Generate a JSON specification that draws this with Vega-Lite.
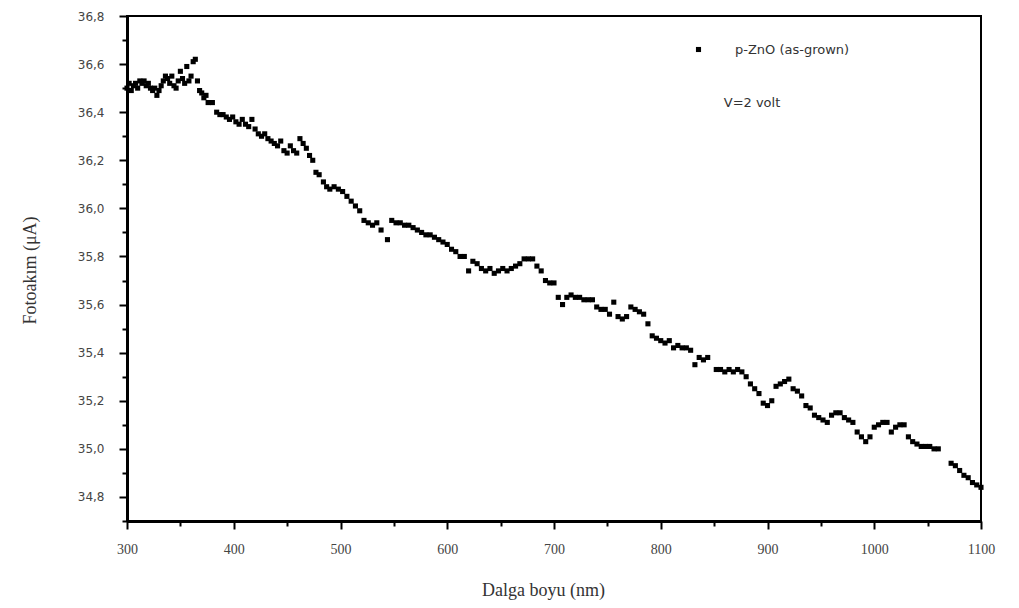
{
  "$schema": "https://vega.github.io/schema/vega-lite/v6.json",
  "width": 854,
  "height": 505,
  "autosize": {"type": "none"},
  "padding": {"left": 127, "top": 16, "right": 38, "bottom": 87},
  "background": "white",
  "config": {"view": {"stroke": "#000", "strokeWidth": 2}},
  "datasets": {
    "pts": [
      {"nm":300,"uA":36.50},{"nm":302,"uA":36.52},{"nm":304,"uA":36.49},{"nm":306,"uA":36.51},{"nm":308,"uA":36.52},
      {"nm":310,"uA":36.50},{"nm":312,"uA":36.53},{"nm":314,"uA":36.52},{"nm":316,"uA":36.53},{"nm":318,"uA":36.51},
      {"nm":320,"uA":36.52},{"nm":322,"uA":36.50},{"nm":324,"uA":36.49},{"nm":326,"uA":36.50},{"nm":328,"uA":36.47},
      {"nm":330,"uA":36.49},{"nm":332,"uA":36.51},{"nm":334,"uA":36.53},{"nm":336,"uA":36.55},{"nm":338,"uA":36.54},
      {"nm":340,"uA":36.52},{"nm":342,"uA":36.55},{"nm":344,"uA":36.51},{"nm":346,"uA":36.50},{"nm":348,"uA":36.53},
      {"nm":350,"uA":36.57},{"nm":352,"uA":36.54},{"nm":354,"uA":36.52},{"nm":356,"uA":36.59},{"nm":358,"uA":36.53},
      {"nm":360,"uA":36.55},{"nm":362,"uA":36.61},{"nm":364,"uA":36.62},{"nm":366,"uA":36.53},{"nm":368,"uA":36.49},
      {"nm":370,"uA":36.48},{"nm":372,"uA":36.46},{"nm":374,"uA":36.47},{"nm":376,"uA":36.44},{"nm":380,"uA":36.44},
      {"nm":384,"uA":36.40},{"nm":387,"uA":36.39},{"nm":390,"uA":36.39},{"nm":393,"uA":36.38},{"nm":396,"uA":36.37},
      {"nm":399,"uA":36.38},{"nm":402,"uA":36.36},{"nm":405,"uA":36.35},{"nm":408,"uA":36.37},{"nm":411,"uA":36.35},
      {"nm":414,"uA":36.34},{"nm":417,"uA":36.37},{"nm":420,"uA":36.33},{"nm":423,"uA":36.31},{"nm":426,"uA":36.30},
      {"nm":429,"uA":36.31},{"nm":432,"uA":36.29},{"nm":435,"uA":36.28},{"nm":438,"uA":36.27},{"nm":441,"uA":36.26},
      {"nm":444,"uA":36.28},{"nm":447,"uA":36.24},{"nm":450,"uA":36.23},{"nm":453,"uA":36.26},{"nm":456,"uA":36.24},
      {"nm":459,"uA":36.23},{"nm":462,"uA":36.29},{"nm":465,"uA":36.27},{"nm":468,"uA":36.25},{"nm":471,"uA":36.22},
      {"nm":474,"uA":36.20},{"nm":477,"uA":36.15},{"nm":480,"uA":36.14},{"nm":484,"uA":36.11},{"nm":487,"uA":36.09},
      {"nm":490,"uA":36.08},{"nm":494,"uA":36.09},{"nm":498,"uA":36.08},{"nm":502,"uA":36.07},{"nm":506,"uA":36.05},
      {"nm":510,"uA":36.03},{"nm":514,"uA":36.01},{"nm":518,"uA":35.99},{"nm":522,"uA":35.95},{"nm":526,"uA":35.94},
      {"nm":530,"uA":35.93},{"nm":534,"uA":35.94},{"nm":538,"uA":35.91},{"nm":544,"uA":35.87},{"nm":548,"uA":35.95},
      {"nm":552,"uA":35.94},{"nm":556,"uA":35.94},{"nm":560,"uA":35.93},{"nm":564,"uA":35.93},{"nm":568,"uA":35.92},
      {"nm":572,"uA":35.91},{"nm":576,"uA":35.90},{"nm":580,"uA":35.89},{"nm":584,"uA":35.89},{"nm":588,"uA":35.88},
      {"nm":592,"uA":35.87},{"nm":596,"uA":35.86},{"nm":600,"uA":35.85},{"nm":604,"uA":35.83},{"nm":608,"uA":35.82},
      {"nm":612,"uA":35.80},{"nm":616,"uA":35.80},{"nm":620,"uA":35.74},{"nm":624,"uA":35.78},{"nm":628,"uA":35.77},
      {"nm":632,"uA":35.75},{"nm":636,"uA":35.74},{"nm":640,"uA":35.75},{"nm":644,"uA":35.73},{"nm":648,"uA":35.74},
      {"nm":652,"uA":35.75},{"nm":656,"uA":35.74},{"nm":660,"uA":35.75},{"nm":664,"uA":35.76},{"nm":668,"uA":35.77},
      {"nm":672,"uA":35.79},{"nm":676,"uA":35.79},{"nm":680,"uA":35.79},{"nm":684,"uA":35.76},{"nm":688,"uA":35.74},
      {"nm":692,"uA":35.70},{"nm":696,"uA":35.69},{"nm":700,"uA":35.69},{"nm":704,"uA":35.63},{"nm":708,"uA":35.60},
      {"nm":712,"uA":35.63},{"nm":716,"uA":35.64},{"nm":720,"uA":35.63},{"nm":724,"uA":35.63},{"nm":728,"uA":35.62},
      {"nm":732,"uA":35.62},{"nm":736,"uA":35.62},{"nm":740,"uA":35.59},{"nm":744,"uA":35.58},{"nm":748,"uA":35.58},
      {"nm":752,"uA":35.56},{"nm":756,"uA":35.61},{"nm":760,"uA":35.55},{"nm":764,"uA":35.54},{"nm":768,"uA":35.55},
      {"nm":772,"uA":35.59},{"nm":776,"uA":35.58},{"nm":780,"uA":35.57},{"nm":784,"uA":35.56},{"nm":788,"uA":35.52},
      {"nm":792,"uA":35.47},{"nm":796,"uA":35.46},{"nm":800,"uA":35.45},{"nm":804,"uA":35.44},{"nm":808,"uA":35.45},
      {"nm":812,"uA":35.42},{"nm":816,"uA":35.43},{"nm":820,"uA":35.42},{"nm":824,"uA":35.42},{"nm":828,"uA":35.41},
      {"nm":832,"uA":35.35},{"nm":836,"uA":35.38},{"nm":840,"uA":35.37},{"nm":844,"uA":35.38},{"nm":852,"uA":35.33},
      {"nm":856,"uA":35.33},{"nm":860,"uA":35.32},{"nm":864,"uA":35.33},{"nm":868,"uA":35.32},{"nm":872,"uA":35.33},
      {"nm":876,"uA":35.32},{"nm":880,"uA":35.30},{"nm":884,"uA":35.27},{"nm":888,"uA":35.25},{"nm":892,"uA":35.23},
      {"nm":896,"uA":35.19},{"nm":900,"uA":35.18},{"nm":904,"uA":35.20},{"nm":908,"uA":35.26},{"nm":912,"uA":35.27},
      {"nm":916,"uA":35.28},{"nm":920,"uA":35.29},{"nm":924,"uA":35.25},{"nm":928,"uA":35.24},{"nm":932,"uA":35.22},
      {"nm":936,"uA":35.18},{"nm":940,"uA":35.17},{"nm":944,"uA":35.14},{"nm":948,"uA":35.13},{"nm":952,"uA":35.12},
      {"nm":956,"uA":35.11},{"nm":960,"uA":35.14},{"nm":964,"uA":35.15},{"nm":968,"uA":35.15},{"nm":972,"uA":35.13},
      {"nm":976,"uA":35.12},{"nm":980,"uA":35.11},{"nm":984,"uA":35.07},{"nm":988,"uA":35.05},{"nm":992,"uA":35.03},
      {"nm":996,"uA":35.05},{"nm":1000,"uA":35.09},{"nm":1004,"uA":35.10},{"nm":1008,"uA":35.11},{"nm":1012,"uA":35.11},
      {"nm":1016,"uA":35.07},{"nm":1020,"uA":35.09},{"nm":1024,"uA":35.10},{"nm":1028,"uA":35.10},{"nm":1032,"uA":35.05},
      {"nm":1036,"uA":35.03},{"nm":1040,"uA":35.02},{"nm":1044,"uA":35.01},{"nm":1048,"uA":35.01},{"nm":1052,"uA":35.01},
      {"nm":1056,"uA":35.00},{"nm":1060,"uA":35.00},{"nm":1072,"uA":34.94},{"nm":1076,"uA":34.93},{"nm":1080,"uA":34.91},
      {"nm":1084,"uA":34.89},{"nm":1088,"uA":34.88},{"nm":1092,"uA":34.86},{"nm":1096,"uA":34.85},{"nm":1100,"uA":34.84}
    ],
    "note": [{"label": "V=2 volt", "nm": 859, "uA": 36.44}]
  },
  "layer": [
    {
      "data": {"name": "pts"},
      "transform": [{"calculate": "'p-ZnO (as-grown)'", "as": "series"}],
      "mark": {"type": "point", "shape": "square", "filled": true, "size": 26, "opacity": 1},
      "encoding": {
        "x": {
          "field": "nm", "type": "quantitative",
          "scale": {"domain": [300, 1100], "nice": false, "zero": false},
          "axis": {
            "values": [300,350,400,450,500,550,600,650,700,750,800,850,900,950,1000,1050,1100],
            "tickCount": 40,
            "format": "d",
            "labelExpr": "datum.value % 100 == 0 ? datum.label : ''",
            "labelOverlap": false, "labelFlush": false,
            "tickSize": {"condition": {"test": "datum.value % 100 == 0", "value": 8}, "value": 5},
            "tickWidth": 2, "tickColor": "#000",
            "domainColor": "#000", "domainWidth": 3,
            "grid": false,
            "labelFont": "Liberation Serif", "labelFontSize": 14, "labelColor": "#444", "labelPadding": 13,
            "title": "Dalga boyu (nm)",
            "titleFont": "Liberation Serif", "titleFontSize": 18, "titleFontWeight": "normal", "titleColor": "#333",
            "titleX": 416, "titleY": 69, "titleBaseline": "middle"
          }
        },
        "y": {
          "field": "uA", "type": "quantitative",
          "scale": {"domain": [34.7, 36.8], "nice": false, "zero": false},
          "axis": {
            "values": [34.7,34.8,34.9,35.0,35.1,35.2,35.3,35.4,35.5,35.6,35.7,35.8,35.9,36.0,36.1,36.2,36.3,36.4,36.5,36.6,36.7,36.8],
            "tickCount": 40,
            "labelExpr": "(datum.value*10 + 0.5) % 2 < 1 ? replace(format(datum.value, '.1f'), '.', ',') : ''",
            "labelOverlap": false, "labelFlush": false,
            "tickSize": {"condition": {"test": "(datum.value*10 + 0.5) % 2 < 1", "value": 8}, "value": 5},
            "tickWidth": 2, "tickColor": "#000",
            "domainColor": "#000", "domainWidth": 3,
            "grid": false,
            "labelFont": "DejaVu Sans", "labelFontSize": 12, "labelColor": "#444", "labelPadding": 15,
            "title": "Fotoakım (μA)",
            "titleFont": "Liberation Serif", "titleFontSize": 18, "titleFontWeight": "normal", "titleColor": "#333",
            "titleX": -97, "titleY": 254, "titleAngle": -90, "titleAlign": "center", "titleBaseline": "middle"
          }
        },
        "color": {
          "field": "series", "type": "nominal",
          "scale": {"range": ["#000000"]},
          "legend": {
            "orient": "none", "legendX": 565, "legendY": 27, "title": null, "padding": 0,
            "symbolType": "square", "symbolSize": 26, "symbolStrokeWidth": 0,
            "labelFont": "DejaVu Sans", "labelFontSize": 13, "labelColor": "#333", "labelOffset": 30
          }
        }
      }
    },
    {
      "data": {"name": "note"},
      "mark": {"type": "text", "align": "left", "baseline": "middle", "font": "DejaVu Sans", "fontSize": 13, "color": "#333"},
      "encoding": {
        "x": {"field": "nm", "type": "quantitative"},
        "y": {"field": "uA", "type": "quantitative"},
        "text": {"field": "label"}
      }
    }
  ]
}
